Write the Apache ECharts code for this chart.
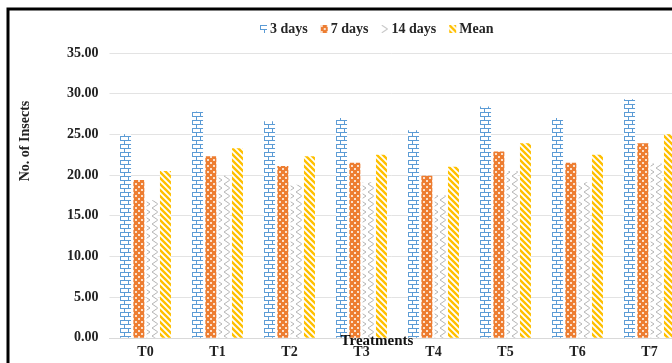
<!DOCTYPE html>
<html>
<head>
<meta charset="utf-8">
<script src="https://cdn.jsdelivr.net/npm/echarts@6/dist/echarts.min.js"></script>
<style>
  html, body { margin: 0; padding: 0; background: #fff; }
  #chart { width: 672px; height: 363px; }
</style>
</head>
<body>
<div id="chart"></div>
<script>
var categories = ['T0', 'T1', 'T2', 'T3', 'T4', 'T5', 'T6', 'T7'];
var days3  = [25.0, 27.8, 26.6, 27.0, 25.5, 28.4, 27.0, 29.3];
var days7  = [19.4, 22.3, 21.1, 21.5, 19.9, 22.9, 21.5, 23.9];
var days14 = [16.9, 19.9, 18.8, 19.1, 17.5, 20.5, 19.1, 21.4];
var mean   = [20.5, 23.3, 22.3, 22.5, 21.0, 23.9, 22.5, 25.0];
var seriesNames = ['3 days', '7 days', '14 days', 'Mean'];

var FONT = '"Liberation Serif", "Times New Roman", serif';

// pattern tiles, like the excel fills
function tile(w, h, draw) {
  var c = document.createElement('canvas');
  c.width = w; c.height = h;
  var ctx = c.getContext('2d');
  draw(ctx);
  return { image: c, repeat: 'repeat' };
}

var brick = tile(8, 8, function (ctx) {
  ctx.fillStyle = '#fff'; ctx.fillRect(0, 0, 8, 8);
  ctx.strokeStyle = '#5b9bd5'; ctx.lineWidth = 1;
  ctx.beginPath();
  ctx.moveTo(0, 0.5); ctx.lineTo(8, 0.5);
  ctx.moveTo(0, 4.5); ctx.lineTo(8, 4.5);
  ctx.moveTo(0.5, 0); ctx.lineTo(0.5, 4.5);
  ctx.moveTo(4.5, 4.5); ctx.lineTo(4.5, 8);
  ctx.stroke();
});

var dots = tile(6, 6, function (ctx) {
  ctx.fillStyle = '#ed7d31'; ctx.fillRect(0, 0, 6, 6);
  ctx.fillStyle = '#fbe0cc';
  ctx.fillRect(0, 0, 2, 2);
  ctx.fillRect(3, 3, 2, 2);
});

var zigzag = tile(8, 8, function (ctx) {
  ctx.fillStyle = '#fff'; ctx.fillRect(0, 0, 8, 8);
  ctx.strokeStyle = '#b4b4b4'; ctx.lineWidth = 1;
  ctx.beginPath();
  ctx.moveTo(0, 0); ctx.lineTo(6, 4); ctx.lineTo(0, 8);
  ctx.stroke();
});

var stripes = tile(6, 6, function (ctx) {
  ctx.fillStyle = '#fff'; ctx.fillRect(0, 0, 6, 6);
  ctx.strokeStyle = '#ffc000'; ctx.lineWidth = 2.4;
  ctx.beginPath();
  [-6, 0, 6].forEach(function (o) {
    ctx.moveTo(o - 1, -1); ctx.lineTo(o + 7, 7);
  });
  ctx.stroke();
});

var fills = [brick, dots, zigzag, stripes];
var values = [days3, days7, days14, mean];

var myChart = echarts.init(document.getElementById('chart'));
myChart.setOption({
  animation: false,
  backgroundColor: '#fff',
  legend: {
    data: seriesNames,
    left: 255,
    top: 17,
    itemWidth: 7,
    itemHeight: 8,
    itemGap: 13,
    icon: 'rect',
    textStyle: { fontFamily: FONT, fontWeight: 'bold', fontSize: 14, color: '#262626', padding: [0, 0, 0, -2] }
  },
  // plot runs past the right edge, the picture is cut there
  grid: {
    left: 109.5, width: 576, top: 52.9, bottom: 25.2,
    containLabel: false, outerBoundsMode: 'none'
  },
  xAxis: {
    type: 'category',
    data: categories,
    axisLine: { show: true, lineStyle: { color: '#d9d9d9' } },
    axisTick: { show: false },
    axisLabel: { fontFamily: FONT, fontWeight: 'bold', fontSize: 14, color: '#222', margin: 8 }
  },
  yAxis: {
    type: 'value',
    min: 0,
    max: 35,
    interval: 5,
    axisLine: { show: false },
    axisTick: { show: false },
    splitLine: { lineStyle: { color: '#e3e3e3' } },
    axisLabel: {
      fontFamily: FONT, fontWeight: 'bold', fontSize: 14, color: '#222', margin: 11,
      formatter: function (v) { return v.toFixed(2); }
    }
  },
  series: seriesNames.map(function (n, i) {
    return {
      name: n,
      type: 'bar',
      data: values[i],
      barWidth: 11,
      barGap: '21%',
      itemStyle: { color: fills[i] }
    };
  }),
  graphic: [
    {
      type: 'rect',
      shape: { x: 8, y: 9, width: 700, height: 400 },
      style: { fill: 'none', stroke: '#000', lineWidth: 3 },
      z: 100
    },
    {
      type: 'text',
      x: 25, y: 141,
      rotation: Math.PI / 2,
      style: {
        text: 'No. of Insects', fontFamily: FONT, fontWeight: 'bold', fontSize: 14,
        fill: '#222', align: 'center', verticalAlign: 'middle'
      },
      z: 100
    },
    {
      type: 'text',
      x: 377, y: 341,
      style: {
        text: 'Treatments', fontFamily: FONT, fontWeight: 'bold', fontSize: 15,
        fill: '#111', align: 'center', verticalAlign: 'middle'
      },
      z: 100
    }
  ]
});
</script>
</body>
</html>
